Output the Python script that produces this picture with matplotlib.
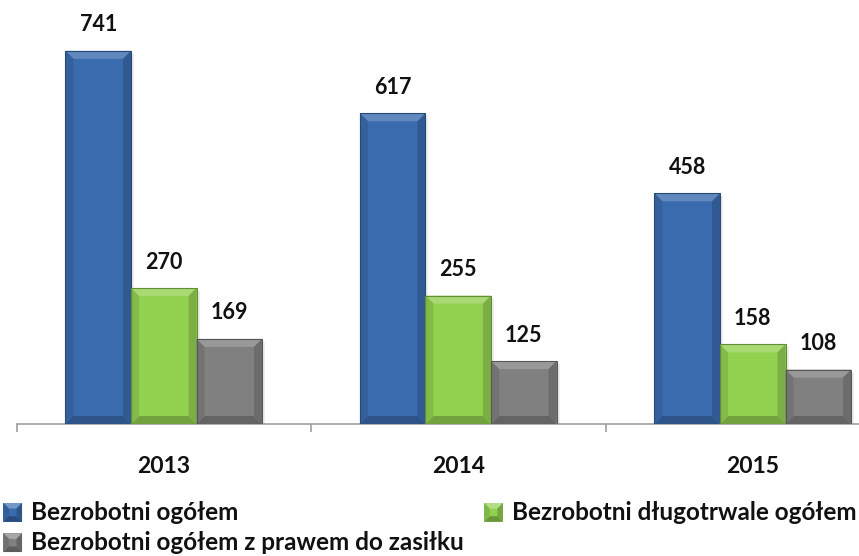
import matplotlib
matplotlib.use("Agg")
import matplotlib.pyplot as plt
import numpy as np
from matplotlib.patches import Polygon, Rectangle
from matplotlib.transforms import IdentityTransform
from matplotlib.legend_handler import HandlerBase
import matplotlib.colors as mcolors

years = ["2013", "2014", "2015"]
series_names = ["Bezrobotni ogółem",
                "Bezrobotni długotrwale ogółem",
                "Bezrobotni ogółem z prawem do zasiłku"]
total = [741, 617, 458]
long_term = [270, 255, 158]
with_benefit = [169, 125, 108]
colors = ["#3A6BAE", "#92D050", "#808080"]

FONT = "Lato"
W, H = 859, 556
DPI = 100
fig = plt.figure(figsize=(W / DPI, H / DPI), dpi=DPI)

left_px, base_px, top_px = 16.5, 424, 0
cat_px = 294.5
ax = fig.add_axes([left_px / W, (H - base_px) / H, 3 * cat_px / W, (base_px - top_px) / H])
ax.set_xlim(-0.5, 2.5)
ax.set_ylim(0, 842)

x = np.arange(len(years))
bw = 0.2225
data = [total, long_term, with_benefit]
bars = []
for i, (vals, c) in enumerate(zip(data, colors)):
    b = ax.bar(x + (i - 1) * bw, vals, bw, color=c, linewidth=0, zorder=2)
    bars.append(b)
    for xi, v in zip(x + (i - 1) * bw, vals):
        ax.annotate(str(v), (xi, v), xytext=(0, 14), textcoords="offset points",
                    ha="center", va="baseline", fontsize=15.5, fontweight="bold",
                    family=FONT, color="#111111")

for s in ["top", "right", "left"]:
    ax.spines[s].set_visible(False)
ax.spines["bottom"].set_color("#A0A0A0")
ax.spines["bottom"].set_linewidth(1.2)
ax.set_yticks([])
ax.set_xticks(x)
ax.set_xticklabels(years, fontsize=16.5, fontweight="bold", family=FONT, color="#111111")
ax.set_xticks([-0.5, 0.5, 1.5, 2.5], minor=True)
ax.tick_params(axis="x", which="major", length=0, pad=23)
ax.tick_params(axis="x", which="minor", length=6, width=1.2, color="#A0A0A0")


def shade(c, f):
    r, g, b = mcolors.to_rgb(c)
    if f >= 1:
        return (r + (1 - r) * (f - 1), g + (1 - g) * (f - 1), b + (1 - b) * (f - 1))
    return (r * f, g * f, b * f)


def bevel_display(x0, y0, x1, y1, c, bv, z=3):
    out = []
    out.append(Rectangle((x1, y0), 3, y1 - y0 - 3, facecolor=(0, 0, 0, 0.07),
                         edgecolor="none", transform=IdentityTransform(), zorder=1))
    polys = [
        ([(x0, y1), (x1, y1), (x1 - bv, y1 - bv), (x0 + bv, y1 - bv)], shade(c, 1.2)),
        ([(x0, y0), (x1, y0), (x1 - bv, y0 + bv), (x0 + bv, y0 + bv)], shade(c, 0.78)),
        ([(x0, y0), (x0, y1), (x0 + bv, y1 - bv), (x0 + bv, y0 + bv)], shade(c, 0.9)),
        ([(x1, y0), (x1, y1), (x1 - bv, y1 - bv), (x1 - bv, y0 + bv)], shade(c, 0.84)),
    ]
    for pts, fc in polys:
        out.append(Polygon(pts, closed=True, facecolor=fc, edgecolor="none",
                           transform=IdentityTransform(), zorder=z))
    out.append(Rectangle((x0, y0), x1 - x0, y1 - y0, facecolor="none",
                         edgecolor=shade(c, 0.68), linewidth=0.8,
                         transform=IdentityTransform(), zorder=z + 0.1))
    return out


fig.canvas.draw()
for b, c in zip(bars, colors):
    for p in b.patches:
        (dx0, dy0), (dx1, dy1) = ax.transData.transform(
            [(p.get_x(), 0), (p.get_x() + p.get_width(), p.get_height())])
        for art in bevel_display(dx0, dy0, dx1, dy1, c, 8):
            ax.add_artist(art)


class BevelHandler(HandlerBase):
    def __init__(self, color):
        super().__init__()
        self.color = color

    def create_artists(self, legend, orig_handle, xdescent, ydescent, width, height, fontsize, trans):
        s = 13.5
        x0 = width - s - 1
        y0 = (height - s) / 2 - 0.5
        c = self.color
        bv = 4.0
        pts = [
            ([(x0, y0), (x0 + s, y0), (x0 + s, y0 + s), (x0, y0 + s)], c),
            ([(x0, y0 + s), (x0 + s, y0 + s), (x0 + s - bv, y0 + s - bv), (x0 + bv, y0 + s - bv)], shade(c, 1.3)),
            ([(x0, y0), (x0 + s, y0), (x0 + s - bv, y0 + bv), (x0 + bv, y0 + bv)], shade(c, 0.72)),
            ([(x0, y0), (x0, y0 + s), (x0 + bv, y0 + s - bv), (x0 + bv, y0 + bv)], shade(c, 0.88)),
            ([(x0 + s, y0), (x0 + s, y0 + s), (x0 + s - bv, y0 + s - bv), (x0 + s - bv, y0 + bv)], shade(c, 0.8)),
        ]
        arts = []
        for p, fc in pts:
            pg = Polygon(p, closed=True, facecolor=fc, edgecolor="none")
            pg.set_transform(trans)
            arts.append(pg)
        return arts


handles = [Rectangle((0, 0), 1, 1, color=c) for c in colors]
order = [0, 2, 1]
leg = fig.legend([handles[i] for i in order], [series_names[i] for i in order],
                 handler_map={handles[i]: BevelHandler(colors[i]) for i in range(3)},
                 loc="lower left", bbox_to_anchor=(-0.001, -0.006), ncol=2,
                 frameon=False, prop={"family": FONT, "size": 17.5, "weight": "bold"},
                 handlelength=0.8, handletextpad=0.33, columnspacing=0.85,
                 labelspacing=0.3, borderaxespad=0.0, borderpad=0.2)
for t in leg.get_texts():
    t.set_color("#111111")

fig.savefig("out.png", dpi=DPI)
